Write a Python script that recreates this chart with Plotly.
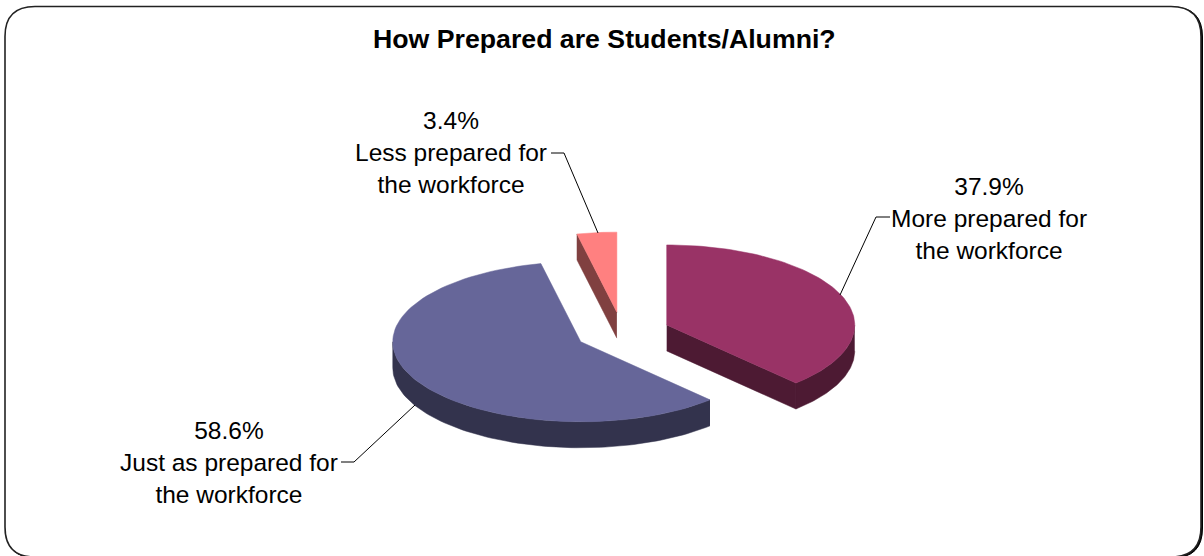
import numpy as np
import plotly.graph_objects as go

TITLE = "How Prepared are Students/Alumni?"
categories = ["More prepared for<br>the workforce",
              "Just as prepared for<br>the workforce",
              "Less prepared for<br>the workforce"]
values = [37.9, 58.6, 3.4]
explosion = [0.256, 0.248, 0.256]
top_colors = ["#993366", "#666699", "#FF8080"]
side_colors = ["#4D1A33", "#33334D", "#804040"]

W, H = 1204, 556
CX, CY = 622, 332.5
RX, RY = 188, 80
DEPTH = 26

total = sum(values)
edges = np.concatenate([[0], np.cumsum(values)]) / total * 2 * np.pi


def pt(c, ang, dz=0):
    return c[0] + RX * np.sin(ang), c[1] - RY * np.cos(ang) + dz


fig = go.Figure()
slices = []
for i, v in enumerate(values):
    a, b = edges[i], edges[i + 1]
    m = (a + b) / 2
    e = explosion[i]
    c = (CX + e * RX * np.sin(m), CY - e * RY * np.cos(m))
    slices.append((i, a, b, c))


def add_poly(xs, ys, color, name):
    fig.add_trace(go.Scatter(
        x=list(xs), y=list(ys), mode="lines", fill="toself", fillcolor=color,
        line=dict(color=color, width=0.5), hoverinfo="text", text=name,
        showlegend=False))


def draw_slice(i, a, b, c):
    name = f"{categories[i].replace('<br>', ' ')}: {values[i]}%"
    # cut faces that look towards the viewer
    for ang, visible in ((a, -np.sin(a) > 1e-6), (b, np.sin(b) > 1e-6)):
        if visible:
            px, py = pt(c, ang)
            add_poly([c[0], px, px, c[0]],
                     [c[1], py, py + DEPTH, c[1] + DEPTH],
                     side_colors[i], name)
    # outer wall: the part of the rim on the near half
    lo, hi = max(a, np.pi / 2), min(b, 3 * np.pi / 2)
    if hi > lo:
        t = np.linspace(lo, hi, 90)
        xs, ys = pt(c, t)
        add_poly(np.r_[xs, xs[::-1]], np.r_[ys, (ys + DEPTH)[::-1]],
                 side_colors[i], name)
    # top surface
    t = np.linspace(a, b, 90)
    xs, ys = pt(c, t)
    add_poly(np.r_[c[0], xs, c[0]], np.r_[c[1], ys, c[1]], top_colors[i], name)


for s in (slices[2], slices[1], slices[0]):
    draw_slice(*s)

# leader lines
leaders = [
    ([890, 876, 840], [217, 217, 295]),
    ([341, 354, 415], [462, 462, 405]),
    ([551, 564, 598], [153, 153, 233]),
]
for lx, ly in leaders:
    fig.add_trace(go.Scatter(x=lx, y=ly, mode="lines",
                             line=dict(color="#000000", width=1),
                             hoverinfo="skip", showlegend=False))

label_pos = [(989, 218), (229, 462), (451, 152)]
font = dict(family="Liberation Sans, Arial, sans-serif", size=24.5, color="#000000")
annotations = []
for (x, y), cat, v in zip(label_pos, categories, values):
    annotations.append(dict(
        x=x, y=y, xref="x", yref="y", showarrow=False, align="center",
        text=f"{v}%<br>{cat}", font=font, xanchor="center", yanchor="middle"))
annotations.append(dict(
    x=604.5, y=39, xref="x", yref="y", showarrow=False, text=f"<b>{TITLE}</b>",
    font=dict(family="Liberation Sans, Arial, sans-serif", size=26.7, color="#000000"),
    xanchor="center", yanchor="middle"))


def rrect(x0, y0, x1, y1, r):
    return (f"M{x0+r},{y0} L{x1-r},{y0} Q{x1},{y0} {x1},{y0+r} "
            f"L{x1},{y1-r} Q{x1},{y1} {x1-r},{y1} L{x0+r},{y1} "
            f"Q{x0},{y1} {x0},{y1-r} L{x0},{y0+r} Q{x0},{y0} {x0+r},{y0} Z")


shapes = [
    dict(type="path", path=rrect(6, 7, 1202.5, 558, 30), xref="x", yref="y",
         fillcolor="#000000", line=dict(color="#000000", width=1), layer="below"),
    dict(type="path", path=rrect(5, 6.5, 1201, 557, 30), xref="x", yref="y",
         fillcolor="#FFFFFF", line=dict(color="#222222", width=1.6), layer="below"),
]

fig.update_layout(
    width=W, height=H, margin=dict(l=0, r=0, t=0, b=0),
    paper_bgcolor="#FFFFFF", plot_bgcolor="rgba(0,0,0,0)",
    xaxis=dict(range=[0, W], visible=False, fixedrange=True),
    yaxis=dict(range=[H, 0], visible=False, fixedrange=True),
    annotations=annotations, shapes=shapes, showlegend=False,
)
fig.write_html("out.html", config={"displayModeBar": False},
               post_script="document.body.style.margin='0';document.body.style.overflow='hidden';")
